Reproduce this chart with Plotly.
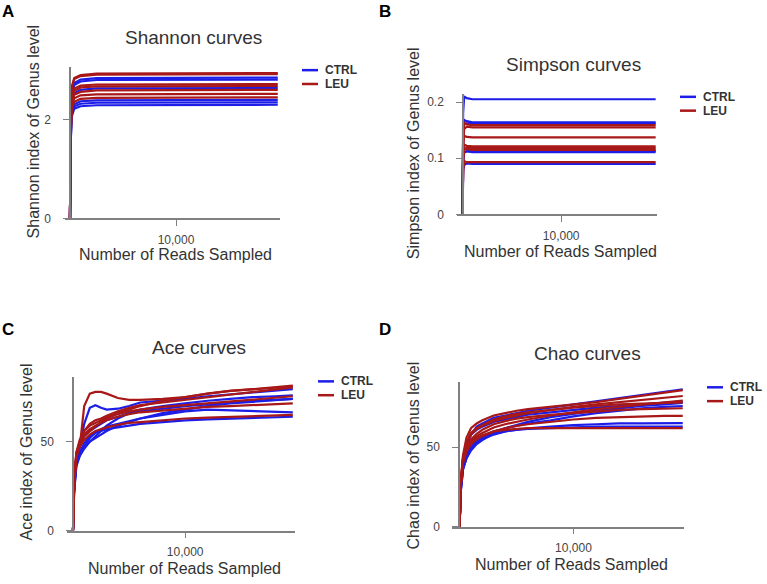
import plotly.graph_objects as go

W, H = 767, 584
CTRL_COLOR = '#1d1de8'
LEU_COLOR = '#a81818'
AXIS_GREY = '#808080'
TEXT = '#333333'
PAD = '\u00a0\u00a0\u00a0'  # keeps y tick labels clear of the axis, as in the original

# ---- data -------------------------------------------------------------
flat_reads = [0, 40, 150, 400, 1000, 2500, 19600]

shannon_ctrl = [
    [0, 1.70, 2.55, 2.74, 2.81, 2.84, 2.85],
    [0, 1.65, 2.50, 2.70, 2.77, 2.80, 2.81],
    [0, 1.55, 2.35, 2.53, 2.60, 2.63, 2.64],
    [0, 1.40, 2.12, 2.31, 2.37, 2.39, 2.40],
    [0, 1.38, 2.10, 2.27, 2.32, 2.34, 2.35],
    [0, 1.35, 2.05, 2.22, 2.27, 2.29, 2.30],
]
shannon_leu = [
    [0, 1.75, 2.65, 2.84, 2.90, 2.93, 2.94],
    [0, 1.72, 2.62, 2.82, 2.88, 2.91, 2.92],
    [0, 1.60, 2.45, 2.63, 2.69, 2.71, 2.72],
    [0, 1.58, 2.40, 2.58, 2.65, 2.67, 2.68],
    [0, 1.52, 2.32, 2.50, 2.56, 2.59, 2.60],
    [0, 1.48, 2.25, 2.43, 2.49, 2.51, 2.52],
    [0, 1.44, 2.20, 2.36, 2.42, 2.44, 2.45],
]

simpson_ctrl = [
    [0, 0.180, 0.210, 0.207, 0.205, 0.205, 0.205],
    [0, 0.140, 0.168, 0.166, 0.164, 0.164, 0.164],
    [0, 0.135, 0.160, 0.162, 0.162, 0.162, 0.162],
    [0, 0.100, 0.118, 0.115, 0.113, 0.113, 0.113],
    [0, 0.095, 0.110, 0.112, 0.111, 0.111, 0.111],
    [0, 0.080, 0.088, 0.091, 0.090, 0.090, 0.090],
]
simpson_leu = [
    [0, 0.140, 0.163, 0.160, 0.159, 0.159, 0.159],
    [0, 0.132, 0.152, 0.156, 0.155, 0.155, 0.155],
    [0, 0.120, 0.140, 0.138, 0.137, 0.137, 0.137],
    [0, 0.105, 0.124, 0.122, 0.121, 0.121, 0.121],
    [0, 0.100, 0.115, 0.119, 0.118, 0.118, 0.118],
    [0, 0.098, 0.117, 0.116, 0.115, 0.115, 0.115],
    [0, 0.082, 0.095, 0.093, 0.093, 0.093, 0.093],
]

curve_reads = [0, 100, 300, 600, 1000, 1500, 2000, 2500, 3000, 4000, 5000,
               6000, 8000, 10000, 12000, 14000, 16000, 18000, 19600]

ace_ctrl = [
    [0, 25, 40, 47, 60, 69, 70.5, 69, 68, 68.5, 70, 72, 73, 74, 75.5, 76.5, 77.5, 78.5, 79.5],
    [0, 22, 37, 42, 46, 50, 53, 56, 59, 63, 66, 68, 70, 71.5, 73, 74, 75, 75.5, 76],
    [0, 24, 38, 43, 47, 50, 52, 54, 56, 59, 61, 63, 66, 68, 70, 71.5, 72.5, 73.5, 74],
    [0, 23, 39, 44, 49, 53, 55, 57, 58.5, 60, 61.5, 63, 65, 67, 68, 67.5, 67, 66.5, 66.5],
    [0, 21, 36, 42, 47, 52, 55, 56, 57, 58, 59, 60, 61, 62, 62.5, 63, 63.5, 64, 64],
    [0, 25, 42, 48, 53, 56, 58, 60, 62, 64, 66, 67, 68.5, 70, 71, 72, 73, 73.5, 74],
]
ace_leu = [
    [0, 28, 44, 47, 70, 77, 78, 78, 77, 74.5, 73.5, 73.5, 74, 75, 77, 78.5, 79.5, 80.5, 81.5],
    [0, 27, 43, 50, 56, 60, 62, 63, 64.5, 67, 69, 70.5, 72, 73.5, 75, 76.5, 78, 79.5, 80.5],
    [0, 26, 42, 48, 53, 56, 58.5, 61, 63, 65.5, 67, 68, 69.5, 70.5, 71.5, 72.5, 73.5, 74.5, 75.5],
    [0, 25, 41, 47, 51, 54, 56, 57, 58, 59.5, 60.5, 61, 62, 63, 63.5, 64, 64.5, 65, 65],
    [0, 26, 43, 49, 54, 57, 59, 60.5, 62, 64, 65.5, 66.5, 67.5, 68.5, 69.5, 70, 70.5, 71, 71.5],
    [0, 27, 44, 51, 56, 59, 60.5, 62, 63.5, 66, 68, 70, 73, 75, 77, 78.5, 79.5, 80.5, 81],
]

chao_ctrl = [
    [0, 25, 40, 50, 58, 63, 65, 67, 68.5, 70, 71.5, 73, 75, 77, 79, 81, 83, 85, 86.5],
    [0, 22, 36, 43, 48, 52, 54.5, 57, 59, 62, 64, 66, 69, 71, 73, 74.5, 76, 77, 78],
    [0, 23, 37, 44, 50, 54, 56, 58, 60, 62, 63.5, 65, 67, 69.5, 71.5, 73, 74.5, 75.5, 76],
    [0, 24, 38, 45, 50, 53, 55, 56.5, 58, 60, 61, 62, 63, 64, 64.5, 65, 65, 65, 65.2],
    [0, 22, 36, 43, 49, 53, 55.5, 57, 58.5, 60, 61, 61.5, 62, 62.5, 63, 63, 63, 63, 63.1],
    [0, 26, 42, 52, 58, 61, 63, 64.5, 66, 67.5, 69, 70.5, 72, 73.5, 75, 76, 77, 78, 79],
]
chao_leu = [
    [0, 28, 45, 56, 62, 65, 67, 68.5, 70, 71.5, 73, 74, 75.5, 77, 78.5, 80.5, 82.5, 84.5, 86],
    [0, 27, 43, 52, 58, 61.5, 63.5, 65, 66.5, 68.5, 70, 71.5, 73.5, 75.5, 77, 78.5, 80, 81.5, 82.3],
    [0, 26, 41, 49, 54, 57, 59, 61, 62.5, 64.5, 66, 67.5, 70, 72, 74, 75.5, 77, 78.5, 79.4],
    [0, 25, 40, 47, 52, 55, 57, 58.5, 60, 62, 63.5, 64.5, 66, 67.5, 68.5, 69, 69.5, 69.8, 69.8],
    [0, 26, 41, 48, 53, 56, 57.5, 59, 60, 61, 61.5, 62, 62, 62, 62, 62, 62, 62, 62],
    [0, 27, 42, 50, 55, 58.5, 61, 63, 64.5, 66.5, 68, 69, 70.5, 71.5, 72.5, 73.5, 74, 74.5, 74.6],
    [0, 28, 44, 53, 59, 62, 64, 66, 67.5, 69.5, 71, 72, 73.5, 75, 76, 77, 77.5, 78, 78.3],
]

# ---- panel geometry (pixels) ---------------------------------------------
panels = [
    dict(letter='A', title='Shannon curves', ytitle='Shannon index of Genus level',
         reads=flat_reads, ctrl=shannon_ctrl, leu=shannon_leu,
         xdom=(65, 280), ypos=70, ydom=(221, 68), xrange=(-472, 19811), yrange=(0, 3.06),
         yticks=[0, 2], yticktext=['0', '2'],
         title_xy=(193, 38), xtitle_xy=(175, 258), ytitle_xy=(33, 134),
         legend_xy=(302, 71), letter_xy=(8, 12)),
    dict(letter='B', title='Simpson curves', ytitle='Simpson index of Genus level',
         reads=flat_reads, ctrl=simpson_ctrl, leu=simpson_leu,
         xdom=(457, 657), ypos=463, ydom=(217, 95), xrange=(-580, 19735), yrange=(0, 0.2146),
         yticks=[0, 0.1, 0.2], yticktext=['0', '0.1', '0.2'],
         title_xy=(573, 65), xtitle_xy=(560, 255), ytitle_xy=(413, 155),
         legend_xy=(680, 98), letter_xy=(385, 12)),
    dict(letter='C', title='Ace curves', ytitle='Ace index of Genus level',
         reads=curve_reads, ctrl=ace_ctrl, leu=ace_leu,
         xdom=(67, 295), ypos=73, ydom=(537, 382), xrange=(-534, 19795), yrange=(0, 86.1),
         yticks=[0, 50], yticktext=['0', '50'],
         title_xy=(199, 352), xtitle_xy=(184, 575), ytitle_xy=(27, 458),
         legend_xy=(318, 386), letter_xy=(8, 333)),
    dict(letter='D', title='Chao curves', ytitle='Chao index of Genus level',
         reads=curve_reads, ctrl=chao_ctrl, leu=chao_leu,
         xdom=(452, 684), ypos=459, ydom=(533, 387), xrange=(-667, 19711), yrange=(0, 90.9),
         yticks=[0, 50], yticktext=['0', '50'],
         title_xy=(587, 358), xtitle_xy=(571, 571), ytitle_xy=(413, 461),
         legend_xy=(707, 392), letter_xy=(385, 333)),
]


def px(x):
    return x / W


def py(y):
    return 1 - y / H


fig = go.Figure()
annotations = []
shapes = []
layout = {}

for i, p in enumerate(panels):
    n = '' if i == 0 else str(i + 1)
    xa, ya = 'x' + n, 'y' + n

    for vals in p['ctrl']:
        fig.add_trace(go.Scatter(x=p['reads'], y=vals, mode='lines', xaxis=xa, yaxis=ya,
                                 line=dict(color=CTRL_COLOR, width=2.2), showlegend=False,
                                 cliponaxis=False))
    for vals in p['leu']:
        fig.add_trace(go.Scatter(x=p['reads'], y=vals, mode='lines', xaxis=xa, yaxis=ya,
                                 line=dict(color=LEU_COLOR, width=2.2), showlegend=False,
                                 cliponaxis=False))

    layout['xaxis' + n] = dict(
        domain=[px(p['xdom'][0]), px(p['xdom'][1])], range=list(p['xrange']), anchor=ya,
        showgrid=False, zeroline=False, showline=True, linecolor=AXIS_GREY, linewidth=1.5,
        ticks='outside', ticklen=6, tickcolor=AXIS_GREY, tickvals=[10000], ticktext=['10,000'],
        ticklabelstandoff=3,
        tickfont=dict(size=12, color='#444444', family='Liberation Sans, Arial'),
    )
    layout['yaxis' + n] = dict(
        domain=[py(p['ydom'][0]), py(p['ydom'][1])], range=list(p['yrange']), anchor='free',
        position=px(p['ypos']),
        showgrid=False, zeroline=False, showline=True, linecolor=AXIS_GREY, linewidth=1.5,
        ticks='outside', ticklen=6, tickcolor=AXIS_GREY, tickvals=p['yticks'],
        ticktext=[t + PAD for t in p['yticktext']],
        tickfont=dict(size=12, color='#444444', family='Liberation Sans, Arial'),
    )

    tx, ty = p['title_xy']
    annotations.append(dict(text=p['title'], x=px(tx), y=py(ty), xref='paper', yref='paper',
                            showarrow=False, xanchor='center', yanchor='middle',
                            font=dict(size=19, color=TEXT)))
    tx, ty = p['xtitle_xy']
    annotations.append(dict(text='Number of Reads Sampled', x=px(tx), y=py(ty), xref='paper',
                            yref='paper', showarrow=False, xanchor='center', yanchor='middle',
                            font=dict(size=16, color=TEXT)))
    tx, ty = p['ytitle_xy']
    annotations.append(dict(text=p['ytitle'], x=px(tx), y=py(ty), xref='paper', yref='paper',
                            showarrow=False, xanchor='center', yanchor='middle', textangle=-90,
                            font=dict(size=16, color=TEXT)))
    tx, ty = p['letter_xy']
    annotations.append(dict(text='<b>' + p['letter'] + '</b>', x=px(tx), y=py(ty), xref='paper',
                            yref='paper', showarrow=False, xanchor='center', yanchor='middle',
                            font=dict(size=17, color='black')))

    # small legend, one per panel
    lx, ly = p['legend_xy']
    for k, (name, col) in enumerate([('CTRL', CTRL_COLOR), ('LEU', LEU_COLOR)]):
        yy = ly + k * 14
        shapes.append(dict(type='line', xref='paper', yref='paper', x0=px(lx), x1=px(lx + 16),
                           y0=py(yy), y1=py(yy), line=dict(color=col, width=2.5)))
        annotations.append(dict(text='<b>' + name + '</b>', x=px(lx + 22), y=py(yy),
                                xref='paper', yref='paper', showarrow=False, xanchor='left',
                                yanchor='middle', borderpad=0,
                                font=dict(size=12, color=TEXT)))

fig.update_layout(
    width=W, height=H, autosize=False,
    margin=dict(l=0, r=0, t=0, b=0),
    paper_bgcolor='white', plot_bgcolor='white',
    font=dict(family='Liberation Sans, Arial, sans-serif'),
    annotations=annotations, shapes=shapes, showlegend=False,
    **layout
)

# the page's default body margin would shift the figure by 8px
fig.write_html('out.html', config={'displayModeBar': False},
               post_script="document.body.style.margin='0';")
